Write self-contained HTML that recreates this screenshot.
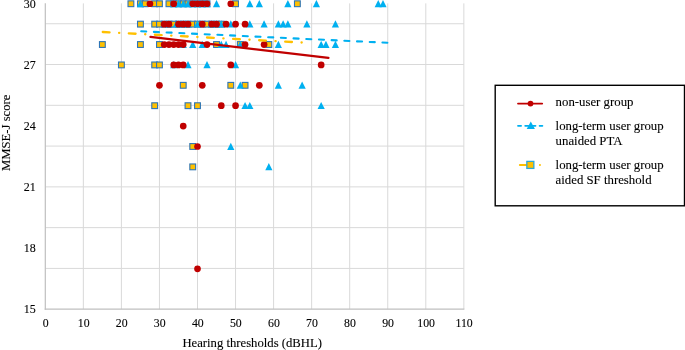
<!DOCTYPE html><html><head><meta charset="utf-8"><title>chart</title><style>html,body{margin:0;padding:0;background:#fff}svg{display:block}text{font-family:"Liberation Serif","Times New Roman",serif;fill:#000;stroke:#000;stroke-width:0.1px}</style></head><body>
<svg width="685" height="350" viewBox="0 0 685 350">
<rect width="685" height="350" fill="#fff"/>
<g stroke="#d9d9d9" stroke-width="1" fill="none">
<line x1="45.30" x2="463.85" y1="268.42" y2="268.42"/>
<line x1="45.30" x2="463.85" y1="227.64" y2="227.64"/>
<line x1="45.30" x2="463.85" y1="186.86" y2="186.86"/>
<line x1="45.30" x2="463.85" y1="146.08" y2="146.08"/>
<line x1="45.30" x2="463.85" y1="105.30" y2="105.30"/>
<line x1="45.30" x2="463.85" y1="64.52" y2="64.52"/>
<line x1="45.30" x2="463.85" y1="23.74" y2="23.74"/>
<line x1="83.35" x2="83.35" y1="3.35" y2="309.20"/>
<line x1="121.40" x2="121.40" y1="3.35" y2="309.20"/>
<line x1="159.45" x2="159.45" y1="3.35" y2="309.20"/>
<line x1="197.50" x2="197.50" y1="3.35" y2="309.20"/>
<line x1="235.55" x2="235.55" y1="3.35" y2="309.20"/>
<line x1="273.60" x2="273.60" y1="3.35" y2="309.20"/>
<line x1="311.65" x2="311.65" y1="3.35" y2="309.20"/>
<line x1="349.70" x2="349.70" y1="3.35" y2="309.20"/>
<line x1="387.75" x2="387.75" y1="3.35" y2="309.20"/>
<line x1="425.80" x2="425.80" y1="3.35" y2="309.20"/>
<line x1="463.85" x2="463.85" y1="3.35" y2="309.20"/>
</g>
<g stroke="#bfbfbf" stroke-width="1.2" fill="none">
<line x1="45.30" x2="45.30" y1="3.35" y2="309.80"/>
<line x1="44.70" x2="464.35" y1="309.20" y2="309.20"/>
</g>
<g font-size="12" text-anchor="end">
<text x="35.8" y="313.40">15</text>
<text x="35.8" y="252.23">18</text>
<text x="35.8" y="191.06">21</text>
<text x="35.8" y="129.89">24</text>
<text x="35.8" y="68.72">27</text>
<text x="35.8" y="7.55">30</text>
</g>
<g font-size="11.8" text-anchor="middle">
<text x="45.60" y="327">0</text>
<text x="83.65" y="327">10</text>
<text x="121.70" y="327">20</text>
<text x="159.75" y="327">30</text>
<text x="197.80" y="327">40</text>
<text x="235.85" y="327">50</text>
<text x="273.90" y="327">60</text>
<text x="311.95" y="327">70</text>
<text x="350.00" y="327">80</text>
<text x="388.05" y="327">90</text>
<text x="426.10" y="327">100</text>
<text x="464.15" y="327">110</text>
</g>
<text font-size="12.7" text-anchor="middle" x="252.2" y="347">Hearing thresholds (dBHL)</text>
<text font-size="12.7" text-anchor="middle" transform="translate(10.4,132.8) rotate(-90)">MMSE-J score</text>
<g fill="#ffc000" stroke="#2e75b6" stroke-width="1.1">
<rect x="128.01" y="0.85" width="5.8" height="5.8"/>
<rect x="137.53" y="0.85" width="5.8" height="5.8"/>
<rect x="142.28" y="0.85" width="5.8" height="5.8"/>
<rect x="151.79" y="0.85" width="5.8" height="5.8"/>
<rect x="156.55" y="0.85" width="5.8" height="5.8"/>
<rect x="166.06" y="0.85" width="5.8" height="5.8"/>
<rect x="170.82" y="0.85" width="5.8" height="5.8"/>
<rect x="175.58" y="0.85" width="5.8" height="5.8"/>
<rect x="180.33" y="0.85" width="5.8" height="5.8"/>
<rect x="185.09" y="0.85" width="5.8" height="5.8"/>
<rect x="189.84" y="0.85" width="5.8" height="5.8"/>
<rect x="194.60" y="0.85" width="5.8" height="5.8"/>
<rect x="199.36" y="0.85" width="5.8" height="5.8"/>
<rect x="204.11" y="0.85" width="5.8" height="5.8"/>
<rect x="232.65" y="0.85" width="5.8" height="5.8"/>
<rect x="294.48" y="0.85" width="5.8" height="5.8"/>
<rect x="137.53" y="21.24" width="5.8" height="5.8"/>
<rect x="151.79" y="21.24" width="5.8" height="5.8"/>
<rect x="156.55" y="21.24" width="5.8" height="5.8"/>
<rect x="161.31" y="21.24" width="5.8" height="5.8"/>
<rect x="166.06" y="21.24" width="5.8" height="5.8"/>
<rect x="170.82" y="21.24" width="5.8" height="5.8"/>
<rect x="175.58" y="21.24" width="5.8" height="5.8"/>
<rect x="180.33" y="21.24" width="5.8" height="5.8"/>
<rect x="185.09" y="21.24" width="5.8" height="5.8"/>
<rect x="189.84" y="21.24" width="5.8" height="5.8"/>
<rect x="194.60" y="21.24" width="5.8" height="5.8"/>
<rect x="199.36" y="21.24" width="5.8" height="5.8"/>
<rect x="204.11" y="21.24" width="5.8" height="5.8"/>
<rect x="208.87" y="21.24" width="5.8" height="5.8"/>
<rect x="213.62" y="21.24" width="5.8" height="5.8"/>
<rect x="218.38" y="21.24" width="5.8" height="5.8"/>
<rect x="99.47" y="41.63" width="5.8" height="5.8"/>
<rect x="137.53" y="41.63" width="5.8" height="5.8"/>
<rect x="156.55" y="41.63" width="5.8" height="5.8"/>
<rect x="213.62" y="41.63" width="5.8" height="5.8"/>
<rect x="237.41" y="41.63" width="5.8" height="5.8"/>
<rect x="265.94" y="41.63" width="5.8" height="5.8"/>
<rect x="118.50" y="62.02" width="5.8" height="5.8"/>
<rect x="151.79" y="62.02" width="5.8" height="5.8"/>
<rect x="156.55" y="62.02" width="5.8" height="5.8"/>
<rect x="180.33" y="82.41" width="5.8" height="5.8"/>
<rect x="227.89" y="82.41" width="5.8" height="5.8"/>
<rect x="242.16" y="82.41" width="5.8" height="5.8"/>
<rect x="151.79" y="102.80" width="5.8" height="5.8"/>
<rect x="185.09" y="102.80" width="5.8" height="5.8"/>
<rect x="194.60" y="102.80" width="5.8" height="5.8"/>
<rect x="189.84" y="143.58" width="5.8" height="5.8"/>
<rect x="189.84" y="163.97" width="5.8" height="5.8"/>
</g>
<g fill="#00b0f0">
<path d="M140.43 -0.05L144.03 7.15H136.83Z"/>
<path d="M173.72 -0.05L177.32 7.15H170.12Z"/>
<path d="M178.48 -0.05L182.08 7.15H174.88Z"/>
<path d="M183.23 -0.05L186.83 7.15H179.63Z"/>
<path d="M187.99 -0.05L191.59 7.15H184.39Z"/>
<path d="M192.74 -0.05L196.34 7.15H189.14Z"/>
<path d="M197.50 -0.05L201.10 7.15H193.90Z"/>
<path d="M202.26 -0.05L205.86 7.15H198.66Z"/>
<path d="M207.01 -0.05L210.61 7.15H203.41Z"/>
<path d="M216.52 -0.05L220.12 7.15H212.92Z"/>
<path d="M249.82 -0.05L253.42 7.15H246.22Z"/>
<path d="M259.33 -0.05L262.93 7.15H255.73Z"/>
<path d="M287.87 -0.05L291.47 7.15H284.27Z"/>
<path d="M316.41 -0.05L320.01 7.15H312.81Z"/>
<path d="M378.24 -0.05L381.84 7.15H374.64Z"/>
<path d="M382.99 -0.05L386.59 7.15H379.39Z"/>
<path d="M168.96 20.34L172.56 27.54H165.36Z"/>
<path d="M176.19 20.34L179.79 27.54H172.59Z"/>
<path d="M183.23 20.34L186.83 27.54H179.63Z"/>
<path d="M187.99 20.34L191.59 27.54H184.39Z"/>
<path d="M197.50 20.34L201.10 27.54H193.90Z"/>
<path d="M211.77 20.34L215.37 27.54H208.17Z"/>
<path d="M216.52 20.34L220.12 27.54H212.92Z"/>
<path d="M221.28 20.34L224.88 27.54H217.68Z"/>
<path d="M230.79 20.34L234.39 27.54H227.19Z"/>
<path d="M249.82 20.34L253.42 27.54H246.22Z"/>
<path d="M264.09 20.34L267.69 27.54H260.49Z"/>
<path d="M278.36 20.34L281.96 27.54H274.76Z"/>
<path d="M283.11 20.34L286.71 27.54H279.51Z"/>
<path d="M287.87 20.34L291.47 27.54H284.27Z"/>
<path d="M306.89 20.34L310.49 27.54H303.29Z"/>
<path d="M335.43 20.34L339.03 27.54H331.83Z"/>
<path d="M183.23 40.73L186.83 47.93H179.63Z"/>
<path d="M192.74 40.73L196.34 47.93H189.14Z"/>
<path d="M202.26 40.73L205.86 47.93H198.66Z"/>
<path d="M221.28 40.73L224.88 47.93H217.68Z"/>
<path d="M226.04 40.73L229.64 47.93H222.44Z"/>
<path d="M240.31 40.73L243.91 47.93H236.71Z"/>
<path d="M278.36 40.73L281.96 47.93H274.76Z"/>
<path d="M321.16 40.73L324.76 47.93H317.56Z"/>
<path d="M325.92 40.73L329.52 47.93H322.32Z"/>
<path d="M335.43 40.73L339.03 47.93H331.83Z"/>
<path d="M173.72 61.12L177.32 68.32H170.12Z"/>
<path d="M187.99 61.12L191.59 68.32H184.39Z"/>
<path d="M207.01 61.12L210.61 68.32H203.41Z"/>
<path d="M235.55 61.12L239.15 68.32H231.95Z"/>
<path d="M240.31 81.51L243.91 88.71H236.71Z"/>
<path d="M278.36 81.51L281.96 88.71H274.76Z"/>
<path d="M302.14 81.51L305.74 88.71H298.54Z"/>
<path d="M245.06 101.90L248.66 109.10H241.46Z"/>
<path d="M249.82 101.90L253.42 109.10H246.22Z"/>
<path d="M321.16 101.90L324.76 109.10H317.56Z"/>
<path d="M230.79 142.68L234.39 149.88H227.19Z"/>
<path d="M268.84 163.07L272.44 170.27H265.24Z"/>
</g>
<g fill="#c00000">
<circle cx="149.94" cy="3.75" r="3.35"/>
<circle cx="173.72" cy="3.75" r="3.35"/>
<circle cx="192.74" cy="3.75" r="3.35"/>
<circle cx="197.50" cy="3.75" r="3.35"/>
<circle cx="202.26" cy="3.75" r="3.35"/>
<circle cx="207.01" cy="3.75" r="3.35"/>
<circle cx="230.79" cy="3.75" r="3.35"/>
<circle cx="164.21" cy="24.14" r="3.35"/>
<circle cx="168.96" cy="24.14" r="3.35"/>
<circle cx="178.48" cy="24.14" r="3.35"/>
<circle cx="183.23" cy="24.14" r="3.35"/>
<circle cx="187.99" cy="24.14" r="3.35"/>
<circle cx="202.26" cy="24.14" r="3.35"/>
<circle cx="211.77" cy="24.14" r="3.35"/>
<circle cx="216.52" cy="24.14" r="3.35"/>
<circle cx="226.04" cy="24.14" r="3.35"/>
<circle cx="235.55" cy="24.14" r="3.35"/>
<circle cx="245.06" cy="24.14" r="3.35"/>
<circle cx="164.21" cy="44.53" r="3.35"/>
<circle cx="168.96" cy="44.53" r="3.35"/>
<circle cx="173.72" cy="44.53" r="3.35"/>
<circle cx="178.48" cy="44.53" r="3.35"/>
<circle cx="183.23" cy="44.53" r="3.35"/>
<circle cx="207.01" cy="44.53" r="3.35"/>
<circle cx="245.06" cy="44.53" r="3.35"/>
<circle cx="264.09" cy="44.53" r="3.35"/>
<circle cx="173.72" cy="64.92" r="3.35"/>
<circle cx="178.48" cy="64.92" r="3.35"/>
<circle cx="183.23" cy="64.92" r="3.35"/>
<circle cx="230.79" cy="64.92" r="3.35"/>
<circle cx="321.16" cy="64.92" r="3.35"/>
<circle cx="159.45" cy="85.31" r="3.35"/>
<circle cx="202.26" cy="85.31" r="3.35"/>
<circle cx="259.33" cy="85.31" r="3.35"/>
<circle cx="221.28" cy="105.70" r="3.35"/>
<circle cx="235.55" cy="105.70" r="3.35"/>
<circle cx="183.23" cy="126.09" r="3.35"/>
<circle cx="197.50" cy="146.48" r="3.35"/>
<circle cx="197.50" cy="268.82" r="3.35"/>
</g>
<g fill="none" stroke-linecap="round">
<path d="M141.2 31.25L387.35 42.75" stroke="#00b0f0" stroke-width="2.1" stroke-dasharray="5.05 7.66"/>
<path d="M102.8 32L302.4 42.5" stroke="#ffc000" stroke-width="2.4" stroke-dasharray="6.7 9.65 0.1 9.65"/>
<path d="M150.5 36.9L328.4 57.9" stroke="#c00000" stroke-width="2.3"/>
</g>
<rect x="495.2" y="85.3" width="189.3" height="120.5" fill="#fff" stroke="#000" stroke-width="1.4"/>
<g fill="none" stroke-linecap="round">
<path d="M518 103.6H542.2" stroke="#c00000" stroke-width="1.8"/>
<path d="M518 125.8H542.4" stroke="#00b0f0" stroke-width="1.8" stroke-dasharray="3.1 4.1"/>
<path d="M519.8 165H528" stroke="#ffc000" stroke-width="1.8"/>
<path d="M539.9 165h0.1" stroke="#ffc000" stroke-width="1.9"/>
</g>
<circle cx="530.5" cy="103.6" r="2.9" fill="#c00000"/>
<path d="M530.8 121.4L534.9 129.1H526.7Z" fill="#00b0f0"/>
<rect x="526.85" y="161.4" width="7" height="7" fill="#ffc000" stroke="#2ea8d8" stroke-width="1.3"/>
<g font-size="12.8">
<text x="555.6" y="106">non-user group</text>
<text x="555.6" y="129.8">long-term user group</text>
<text x="555.6" y="144.7">unaided PTA</text>
<text x="555.6" y="168.9">long-term user group</text>
<text x="555.6" y="183.8">aided SF threshold</text>
</g>
</svg></body></html>
